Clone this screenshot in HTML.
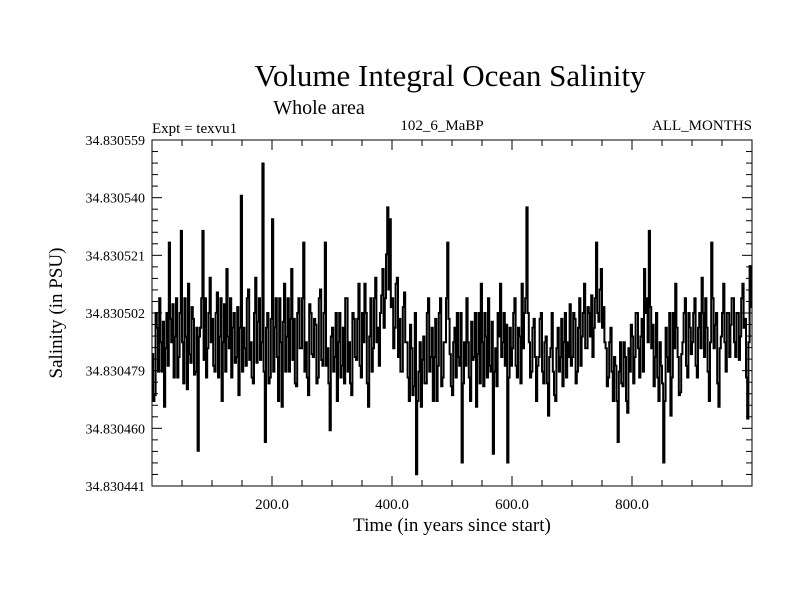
<!DOCTYPE html>
<html><head><meta charset="utf-8"><style>
body{margin:0;background:#fff}
svg text{font-family:"Liberation Serif",serif;fill:#000}
</style></head><body>
<svg id="chart" width="800" height="600" viewBox="0 0 800 600" xmlns="http://www.w3.org/2000/svg">
<rect width="800" height="600" fill="#fff"/>
<text x="450" y="86" font-size="31" text-anchor="middle">Volume Integral Ocean Salinity</text>
<text x="319" y="114" font-size="20" text-anchor="middle">Whole area</text>
<text x="152" y="133" font-size="15">Expt = texvu1</text>
<text x="442" y="130" font-size="15" text-anchor="middle">102_6_MaBP</text>
<text x="752" y="130" font-size="15" text-anchor="end">ALL_MONTHS</text>
<text x="452" y="531" font-size="19" text-anchor="middle">Time (in years since start)</text>
<text transform="translate(62,313) rotate(-90)" font-size="19" text-anchor="middle">Salinity (in PSU)</text>
<g id="axes"></g>
<path id="series" fill="none" stroke="#000" stroke-width="2"/>
<rect x="152" y="140" width="600" height="346" fill="none" stroke="#000" stroke-width="1"/>
</svg>
<script>
const yearStep = 2;
// even-step values (years 0,4,8,...)
const valuesA = [
486,472,495,505,480,468,500,524,490,478,505,485,528,476,492,510,483,498,480,453,495,528,505,488,512,
498,480,507,492,470,503,515,488,478,500,485,472,540,495,482,508,490,476,512,497,484,551,456,500,478,
532,495,485,505,468,510,492,480,515,498,475,505,488,524,490,472,500,485,496,478,508,482,524,488,460,
495,485,470,500,482,476,505,490,472,498,484,510,478,490,500,468,505,488,512,495,500,515,505,536,532,
505,495,512,498,480,507,490,470,488,475,445,480,468,492,476,505,485,470,498,482,505,478,490,524,486,
472,495,500,482,449,490,505,478,497,485,468,500,510,475,492,505,480,452,488,500,510,490,482,449,495,
488,505,478,492,510,500,536,490,480,498,470,485,500,476,492,465,488,480,470,495,485,475,500,490,503,
485,498,480,505,492,510,488,500,506,495,524,497,515,502,488,478,495,470,482,456,490,475,485,466,480,
492,485,500,478,498,515,505,528,488,475,500,470,482,449,495,480,465,500,510,485,473,490,505,478,495,
490,505,478,500,512,485,495,470,524,488,500,468,492,510,480,500,496,505,485,500,492,510,498,464,516
];
// in-between values (years 2,6,10,...)
const valuesB = [
470,500,480,490,497,488,482,498,503,492,478,500,490,505,474,486,502,479,495,492,505,484,478,500,490,
482,500,478,505,490,480,492,505,495,483,502,495,480,488,505,484,478,500,483,505,490,480,495,476,498,
480,505,470,490,497,480,505,498,484,476,500,488,505,480,478,503,486,498,476,505,484,500,482,476,492,
480,500,490,478,495,505,480,476,500,485,498,482,500,510,476,492,480,505,490,482,506,495,520,508,502,
488,510,485,480,502,490,478,496,472,500,470,490,484,476,500,480,495,485,470,500,475,490,505,498,475,
490,478,485,500,476,482,490,470,484,500,486,476,490,500,478,482,497,480,475,492,485,500,496,478,482,
500,482,495,476,488,505,500,478,495,485,482,498,480,490,476,485,500,472,488,480,498,490,478,485,482,
500,476,495,482,500,488,502,492,485,505,500,508,495,490,475,490,480,485,470,480,476,490,470,488,496,
476,500,488,492,480,500,490,502,496,485,478,490,476,470,485,500,478,488,495,472,486,500,482,500,486,
500,482,495,488,500,505,480,490,505,496,476,488,500,490,500,485,505,490,500,484,505,495,478,490,502
];
const yTickLabels = ["34.830441","34.830460","34.830479","34.830502","34.830521","34.830540","34.830559"];
const xTickValues = [200,400,600,800];
const xTickLabels = ["200.0","400.0","600.0","800.0"];
const X0=152,X1=752,Y0=486,Y1=140, yMin=441, yMax=559, xMax=1000;
const sx = t => X0 + (t/xMax)*(X1-X0);
const sy = v => Y0 - (v-yMin)/(yMax-yMin)*(Y0-Y1);
const NS="http://www.w3.org/2000/svg";
const axes=document.getElementById('axes');
function line(x1,y1,x2,y2,name){const l=document.createElementNS(NS,'line');
l.setAttribute('x1',x1);l.setAttribute('y1',y1);l.setAttribute('x2',x2);l.setAttribute('y2',y2);
l.setAttribute('stroke','#000');l.setAttribute('stroke-width','1');


axes.appendChild(l);}
for(let t=50;t<xMax;t+=50){const x=sx(t);const L=(t%200===0)?10:6;
line(x,Y0,x,Y0-L,'x-tick');line(x,Y1,x,Y1+L,'x-tick');}
xTickValues.forEach((t,i)=>{const tx=document.createElementNS(NS,'text');
tx.setAttribute('x',sx(t));tx.setAttribute('y',Y0+23);tx.setAttribute('font-size','15');tx.setAttribute('text-anchor','middle');
tx.textContent=xTickLabels[i];


axes.appendChild(tx);});
const nMaj=yTickLabels.length-1, h=(Y0-Y1)/nMaj;
for(let k=0;k<=nMaj*5;k++){const y=Y0-k*h/5;const L=(k%5===0)?10:6;
line(X0,y,X0+L,y,'y-tick');line(X1,y,X1-L,y,'y-tick');}
yTickLabels.forEach((s,i)=>{const tx=document.createElementNS(NS,'text');
tx.setAttribute('x',145);tx.setAttribute('y',Y0-i*h+5);tx.setAttribute('font-size','14');tx.setAttribute('text-anchor','end');
tx.textContent=s;


axes.appendChild(tx);});
const values=[];
valuesA.forEach((v,i)=>{values.push(v); if(i<valuesB.length) values.push(valuesB[i]);});
let d='';
values.forEach((v,i)=>{const x=sx(i*yearStep), x2=sx(Math.min((i+1)*yearStep,xMax)), y=sy(v);
d+=(i===0?'M':'L')+x.toFixed(1)+','+y.toFixed(1)+'L'+x2.toFixed(1)+','+y.toFixed(1);});
document.getElementById('series').setAttribute('d',d);
</script>
</body></html>
